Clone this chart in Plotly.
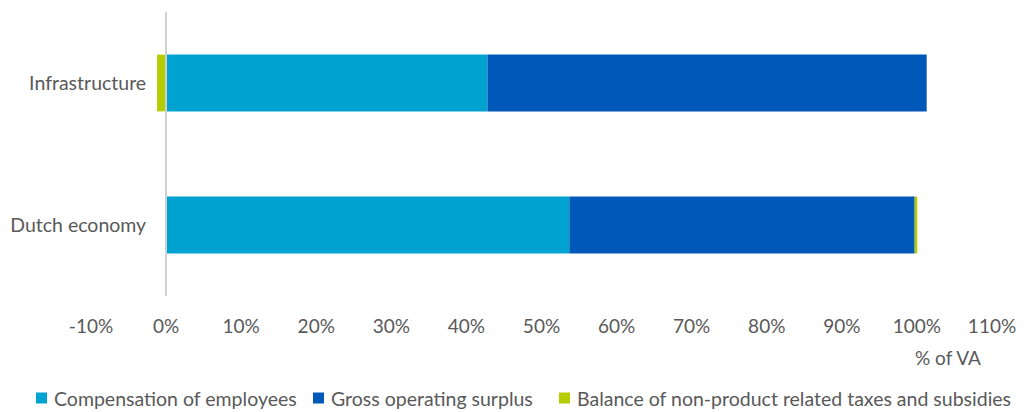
import plotly.graph_objects as go

categories = ["Dutch economy", "Infrastructure"]
compensation = [53.7, 42.8]
gross_surplus = [46.0, 58.5]
balance_taxes = [0.35, -1.2]
tick_values = list(range(-10, 111, 10))
tick_labels = [f"{v}%" for v in tick_values]

series_names = ["Compensation of employees", "Gross operating surplus",
                "Balance of non-product related taxes and subsidies"]
series_colors = ["#00A3CF", "#0058B8", "#B5CC00"]
series_values = [compensation, gross_surplus, balance_taxes]

FONT = "Lato"
GREY = "#595959"
FS = 19

fig = go.Figure()
for name, color, vals in zip(series_names, series_colors, series_values):
    fig.add_trace(go.Bar(y=categories, x=vals, orientation="h", name=name,
                         marker_color=color, marker_line_width=0,
                         showlegend=False))

# page body has an 8px margin; figure coordinates = screen - 8
OFF = 8
W, H = 1018, 404
L, R, T, B = 91 - OFF, W - (992 - OFF), 12 - OFF, H - (296 - OFF)
pw = W - L - R
ph = H - T - B
xmin, xmax = -10, 110
zero_frac = (0 - xmin) / (xmax - xmin)


def px_x(sx):
    return (sx - OFF - L) / pw


def px_y(sy):
    return (H - B - (sy - OFF)) / ph


fig.update_layout(
    width=W, height=H,
    margin=dict(l=L, r=R, t=T, b=B, autoexpand=False),
    barmode="relative",
    bargap=0.6,
    plot_bgcolor="white", paper_bgcolor="white",
    font=dict(family=FONT, size=FS, color=GREY),
    xaxis=dict(range=[xmin, xmax], tickvals=tick_values, ticktext=tick_labels,
               showgrid=False, zeroline=False, showline=False, automargin=False,
               ticks="", ticklabelstandoff=17, tickfont=dict(size=FS, color=GREY)),
    yaxis=dict(anchor="free", position=zero_frac, showline=True, automargin=False,
               linecolor="#D0D0D0", linewidth=2, showgrid=False, zeroline=False,
               ticks="", ticklabelstandoff=15, tickfont=dict(size=19.5, color=GREY)),
    showlegend=False,
)

fig.add_annotation(text="% of VA", xref="paper", yref="paper",
                   x=px_x(947.5), y=px_y(357),
                   showarrow=False, xanchor="center", yanchor="middle",
                   font=dict(size=FS, color=GREY))

# manual legend (square key + label)
key_x = [36, 313, 559]
key_size = 11
leg_y = 398
for kx, name, color in zip(key_x, series_names, series_colors):
    fig.add_shape(type="rect", xref="paper", yref="paper",
                  x0=px_x(kx), x1=px_x(kx + key_size),
                  y0=px_y(leg_y + key_size / 2), y1=px_y(leg_y - key_size / 2),
                  fillcolor=color, line_width=0)
    fig.add_annotation(text=name, xref="paper", yref="paper",
                       x=px_x(kx + key_size + 5), y=px_y(leg_y),
                       showarrow=False, xanchor="left", yanchor="middle",
                       font=dict(size=19.5, color=GREY))

fig.write_html("out.html")
